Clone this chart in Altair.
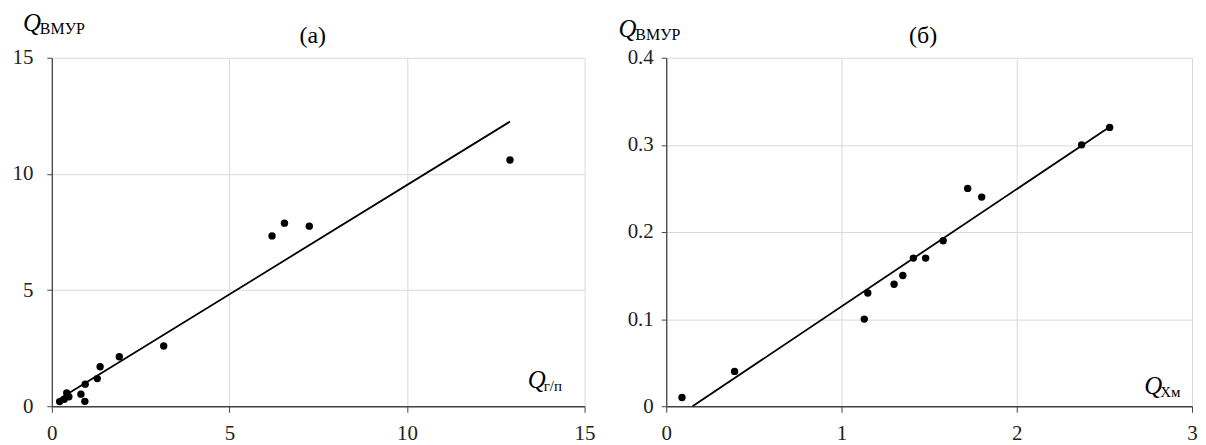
import altair as alt
import pandas as pd

# Panel (а)
a_x = [0.22, 0.35, 0.42, 0.48, 0.82, 0.93, 0.94, 1.28, 1.36, 1.9, 3.15, 6.2, 6.55, 7.25, 12.9]
a_y = [0.2, 0.3, 0.57, 0.41, 0.52, 0.21, 0.95, 1.19, 1.7, 2.13, 2.59, 7.33, 7.88, 7.75, 10.6]
a_line_x = [0.2, 12.9]
a_line_y = [0.3, 12.25]
a_ticks_x = [0, 5, 10, 15]
a_ticks_y = [0, 5, 10, 15]

# Panel (б)
b_x = [0.09, 0.39, 1.13, 1.15, 1.30, 1.35, 1.41, 1.48, 1.58, 1.72, 1.80, 2.37, 2.53]
b_y = [0.01, 0.04, 0.10, 0.13, 0.14, 0.15, 0.17, 0.17, 0.19, 0.25, 0.24, 0.30, 0.32]
b_line_x = [0.15, 2.54]
b_line_y = [0.0, 0.322]
b_ticks_x = [0, 1, 2, 3]
b_ticks_y = [0, 0.1, 0.2, 0.3, 0.4]

FONT = "Liberation Serif"
W_A, W_B, H = 535, 528, 350


def txt(s, x, y, size, italic=False, align="left"):
    kw = {"fontStyle": "italic"} if italic else {}
    return alt.Chart(pd.DataFrame({"t": [s]})).mark_text(
        font=FONT, fontSize=size, align=align, baseline="alphabetic", **kw
    ).encode(x=alt.value(x), y=alt.value(y), text="t:N")


def panel(xs, ys, lx, ly, tx, ty, xmax, ymax, w, ylabpad,
          title, title_x, qy_x, qy_base, sub_y, qx_x, qx_base, sub_x):
    pts = pd.DataFrame({"x": xs, "y": ys})
    ln = pd.DataFrame({"x": lx, "y": ly})
    xsc = alt.Scale(domain=[0, xmax], nice=False, zero=True)
    ysc = alt.Scale(domain=[0, ymax], nice=False, zero=True)
    xax = alt.Axis(values=tx, title=None, labelFont=FONT, labelFontSize=21,
                   labelColor="#222", labelPadding=10, tickSize=6,
                   labelFlush=False, format="~g",
                   domainColor="#444", tickColor="#444", domainWidth=1.3,
                   gridColor="#d9d9d9", gridWidth=1)
    yax = alt.Axis(values=ty, title=None, labelFont=FONT, labelFontSize=21,
                   labelColor="#222", labelPadding=ylabpad, tickSize=5,
                   labelFlush=False, format="~g",
                   domainColor="#444", tickColor="#444", domainWidth=1.3,
                   gridColor="#d9d9d9", gridWidth=1)
    p = alt.Chart(pts).mark_circle(size=55, color="black", opacity=1).encode(
        x=alt.X("x:Q", scale=xsc, axis=xax),
        y=alt.Y("y:Q", scale=ysc, axis=yax),
    )
    l = alt.Chart(ln).mark_line(color="black", strokeWidth=1.8).encode(
        x=alt.X("x:Q", scale=xsc), y=alt.Y("y:Q", scale=ysc)
    )
    layers = [
        l, p,
        txt(title, title_x, -15, 24, align="center"),
        txt("Q", qy_x, qy_base, 25, italic=True),
        txt(sub_y, qy_x + 17, qy_base + 3, 16),
        txt("Q", qx_x, qx_base, 25, italic=True),
        txt(sub_x, qx_x + 16, qx_base + 3, 15),
    ]
    return alt.layer(*layers).properties(width=w, height=H)


left = panel(a_x, a_y, a_line_x, a_line_y, a_ticks_x, a_ticks_y, 15, 15, W_A,
             14, "(а)", 262, -29, -27, "ВМУР", 478, 332, "г/п")
right = panel(b_x, b_y, b_line_x, b_line_y, b_ticks_x, b_ticks_y, 3, 0.4, W_B,
              8, "(б)", 258, -48, -21, "ВМУР", 480, 338, "Хм")

chart = alt.hconcat(left, right, spacing=23).properties(
    padding={"left": 4, "top": 2, "right": 0, "bottom": 0},
).configure_view(stroke=None)

chart.save("out.html", embed_options={"renderer": "svg", "actions": False})
